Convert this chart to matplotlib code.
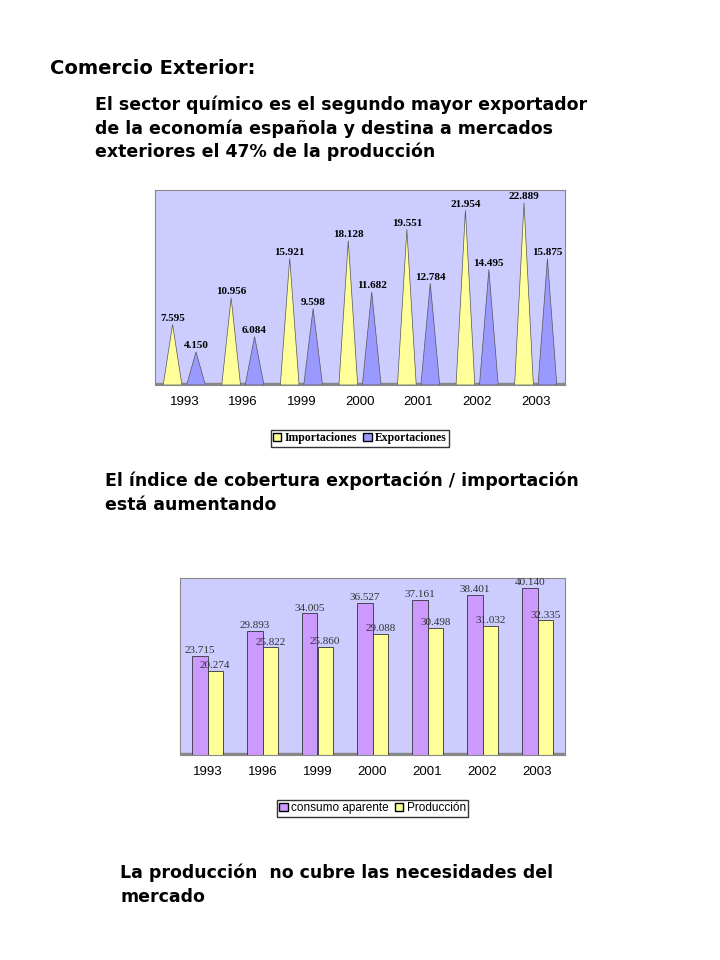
import matplotlib
matplotlib.use("Agg")
import matplotlib.pyplot as plt
from matplotlib.patches import Patch
import numpy as np

years = ["1993", "1996", "1999", "2000", "2001", "2002", "2003"]
importaciones = [7.595, 10.956, 15.921, 18.128, 19.551, 21.954, 22.889]
exportaciones = [4.150, 6.084, 9.598, 11.682, 12.784, 14.495, 15.875]
consumo = [23.715, 29.893, 34.005, 36.527, 37.161, 38.401, 40.140]
produccion = [20.274, 25.822, 25.860, 29.088, 30.498, 31.032, 32.335]

W, H = 720, 960
fig = plt.figure(figsize=(7.2, 9.6), dpi=100)
fig.patch.set_facecolor("white")

def ft(x, y, s, size, **kw):
    fig.text(x / W, 1 - y / H, s, fontsize=size, fontweight="bold",
             family="DejaVu Sans", va="center", ha="left", **kw)

ft(50, 68, "Comercio Exterior:", 14)
ft(95, 105, "El sector químico es el segundo mayor exportador", 12.5)
ft(95, 129, "de la economía española y destina a mercados", 12.5)
ft(95, 152, "exteriores el 47% de la producción", 12.5)
ft(105, 481, "El índice de cobertura exportación / importación", 12.5)
ft(105, 505, "está aumentando", 12.5)
ft(120, 873, "La producción  no cubre las necesidades del", 12.5)
ft(120, 897, "mercado", 12.5)

yellow = "#ffff99"
blue = "#9999ff"
purple = "#cc99ff"
bg = "#ccccff"

def style(ax, ymax):
    ax.set_facecolor(bg)
    ax.set_xlim(-0.5, len(years) - 0.5)
    ax.set_ylim(0, ymax)
    ax.set_yticks([])
    ax.set_xticks(np.arange(len(years)))
    ax.set_xticklabels(years, fontsize=9.5, family="Liberation Sans")
    ax.tick_params(axis="x", length=0, pad=8)
    for s in ax.spines.values():
        s.set_color("#888888")
        s.set_linewidth(0.8)
    ax.axhspan(0, ymax * 0.012, color="#888888", zorder=1)

# Chart 1: cones
ax1 = fig.add_axes([155 / W, 1 - 385 / H, 410 / W, 195 / H])
style(ax1, 24.5)
x = np.arange(len(years))
hw = 0.16
for i in range(len(years)):
    for off, val, col in [(-0.2, importaciones[i], yellow), (0.2, exportaciones[i], blue)]:
        cx = x[i] + off
        ax1.fill([cx - hw, cx, cx + hw], [0, val, 0], color=col, ec="#555555", lw=0.5, zorder=2)
        ax1.text(cx, val + 0.2, f"{val:.3f}", ha="center", va="bottom", fontsize=8,
                 fontweight="bold", family="Liberation Serif", zorder=3)
ax1.legend(handles=[Patch(fc=yellow, ec="black", label="Importaciones"),
                    Patch(fc=blue, ec="black", label="Exportaciones")],
           loc="upper center", bbox_to_anchor=(0.5, -0.2), ncol=2, frameon=True,
           fancybox=False, edgecolor="black", handlelength=0.7, handletextpad=0.3,
           columnspacing=0.5, borderpad=0.2,
           prop={"family": "Liberation Serif", "weight": "bold", "size": 8.5})

# Chart 2: bars
ax2 = fig.add_axes([180 / W, 1 - 755 / H, 385 / W, 177 / H])
style(ax2, 42.5)
bw = 0.28
ax2.bar(x - bw / 2, consumo, bw, color=purple, ec="#333333", lw=0.6, zorder=2)
ax2.bar(x + bw / 2, produccion, bw, color=yellow, ec="#333333", lw=0.6, zorder=2)
for i in range(len(years)):
    ax2.text(x[i] - bw / 2, consumo[i] + 0.2, f"{consumo[i]:.3f}", ha="center", va="bottom",
             fontsize=8, family="Liberation Serif", color="#333333", zorder=3)
    ax2.text(x[i] + bw / 2, produccion[i] + 0.2, f"{produccion[i]:.3f}", ha="center", va="bottom",
             fontsize=8, family="Liberation Serif", color="#333333", zorder=3)
ax2.legend(handles=[Patch(fc=purple, ec="black", label="consumo aparente"),
                    Patch(fc=yellow, ec="black", label="Producción")],
           loc="upper center", bbox_to_anchor=(0.5, -0.22), ncol=2, frameon=True,
           fancybox=False, edgecolor="black", handlelength=0.7, handletextpad=0.3,
           columnspacing=0.5, borderpad=0.2,
           prop={"family": "Liberation Sans", "size": 8.5})

fig.savefig("out.png", dpi=100)
